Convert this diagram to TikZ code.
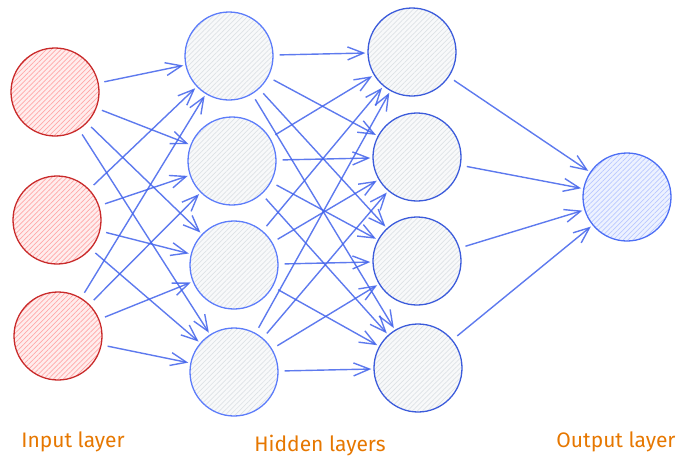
\documentclass[tikz,border=0pt]{standalone}
\usepackage{fontspec}
\setmainfont{Fira Sans}
\usetikzlibrary{arrows.meta,patterns.meta}

\definecolor{inred}{HTML}{C92A2A}
\definecolor{inpink}{HTML}{FFA8A8}
\definecolor{inpale}{HTML}{FFEDED}
\definecolor{hidblue}{HTML}{5C7CFA}
\definecolor{hiddark}{HTML}{3B5BDB}
\definecolor{hidgray}{HTML}{DEE2E6}
\definecolor{hidpale}{HTML}{F8F9FA}
\definecolor{outblue}{HTML}{4C6EF5}
\definecolor{outhatch}{HTML}{BAC8FF}
\definecolor{outpale}{HTML}{EDF2FF}
\definecolor{linkblue}{HTML}{4263EB}
\definecolor{labelorange}{HTML}{E67700}

\tikzset{
    neuron/.style={circle, minimum size=88pt, inner sep=0pt, line width=1.3pt},
    hatch/.style n args={2}{preaction={fill=#2},
        pattern={Lines[angle=45,distance=3.5pt,line width=0.7pt]}, pattern color=#1},
    inputnode/.style={neuron, draw=inred, hatch={inpink}{inpale}},
    hiddenA/.style={neuron, draw=hidblue, hatch={hidgray}{hidpale}},
    hiddenB/.style={neuron, draw=hiddark, hatch={hidgray}{hidpale}},
    outputnode/.style={neuron, draw=outblue, hatch={outhatch}{outpale}},
    link/.style={draw=linkblue, line width=1.4pt, opacity=0.85,
        -{Straight Barb[length=16pt,width=13pt]}, shorten <=6pt, shorten >=2pt},
    layerlabel/.style={text=labelorange, font=\fontsize{21}{24}\selectfont}
}

\begin{document}
\begin{tikzpicture}[x=1pt, y=-1pt]

    % 画布
    \useasboundingbox (0,0) rectangle (690,472);

    % 输入层
    \node[inputnode] (in1) at (55,92) {};
    \node[inputnode] (in2) at (57,220) {};
    \node[inputnode] (in3) at (58,336) {};

    % 隐藏层
    \node[hiddenA] (hA1) at (229,56) {};
    \node[hiddenA] (hA2) at (232,161) {};
    \node[hiddenA] (hA3) at (234,265) {};
    \node[hiddenA] (hA4) at (234,372) {};

    \node[hiddenB] (hB1) at (412,52) {};
    \node[hiddenB] (hB2) at (417,157) {};
    \node[hiddenB] (hB3) at (417,261) {};
    \node[hiddenB] (hB4) at (418,368) {};

    % 输出层
    \node[outputnode] (out) at (627,197) {};

    % 连线
    \foreach \i in {1,2,3} {
        \foreach \j in {1,...,4} {
            \draw[link] (in\i) -- (hA\j);
        }
    }
    \foreach \i in {1,...,4} {
        \foreach \j in {1,...,4} {
            \draw[link] (hA\i) -- (hB\j);
        }
        \draw[link] (hB\i) -- (out);
    }

    % 层标签
    \node[layerlabel] (lin) at (73,442) {Input layer};
    \node[layerlabel] (lhid) at (320,446) {Hidden layers};
    \node[layerlabel] (lout) at (616,442) {Output layer};

\end{tikzpicture}
\end{document}
